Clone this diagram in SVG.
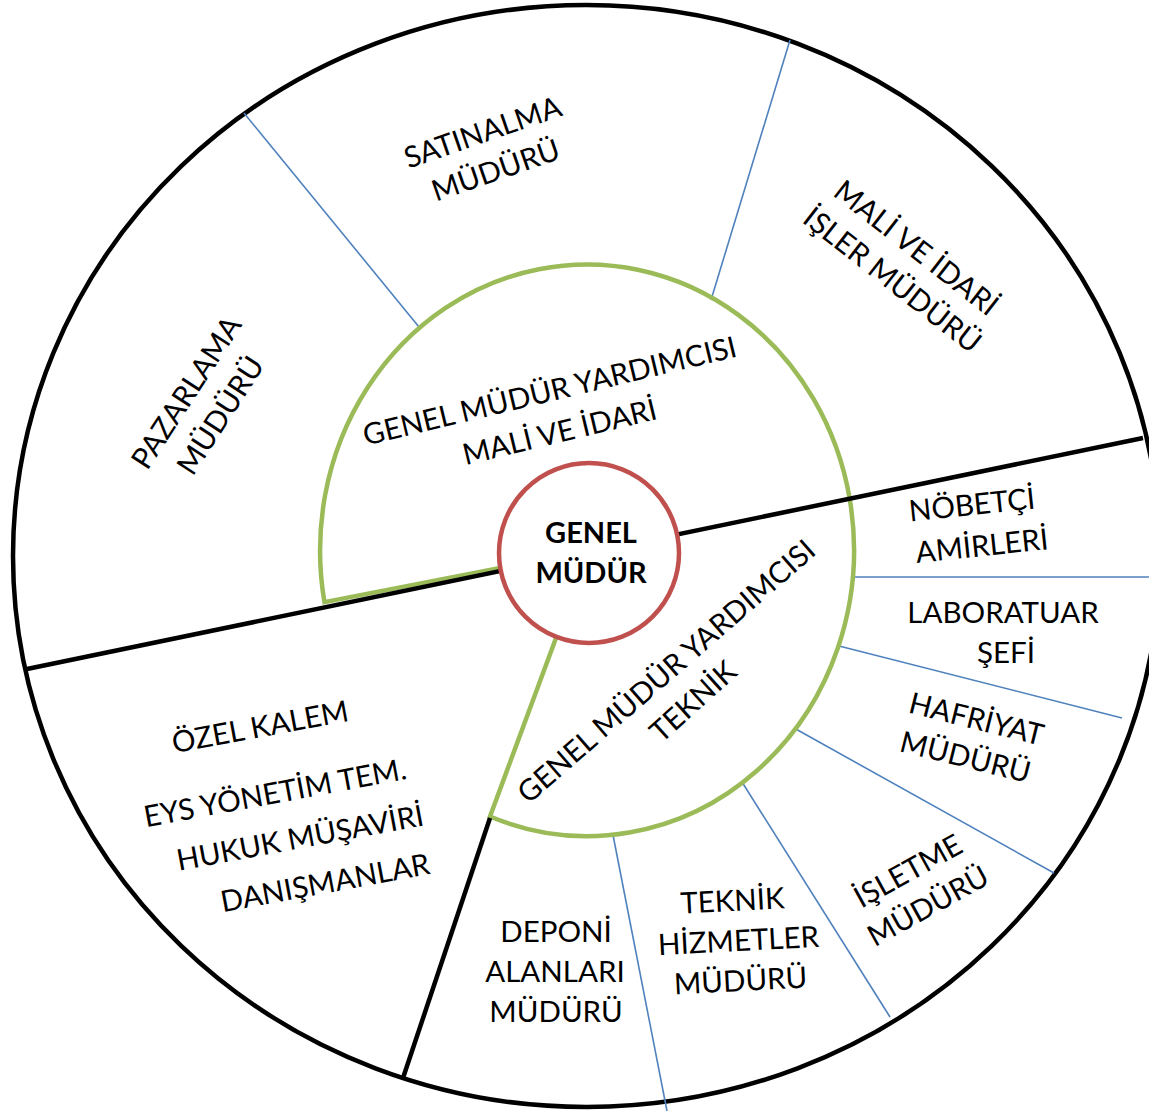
<svg xmlns="http://www.w3.org/2000/svg" width="1149" height="1111" viewBox="0 0 1149 1111">
  <style>
    .lbl { font-family: Lato, "Open Sans", "DejaVu Sans", sans-serif; font-size: 29.5px; fill: #000; text-anchor: middle; }
    .bold { font-weight: bold; font-size: 29px; }
    .outer { fill: #fff; stroke: #000; stroke-width: 4.5; }
    .div { fill: none; stroke: #000; stroke-width: 4.5; }
    .sub { fill: none; stroke: #4F81BD; stroke-width: 1.6; }
    .deputy { fill: none; stroke: #9BBB59; stroke-width: 4.5; stroke-linejoin: miter; }
    .chief { fill: #fff; stroke: #C0504D; stroke-width: 4.5; }
  </style>
  <rect width="1149" height="1111" fill="#fff"/>

  <!-- outer ring of departments -->
  <ellipse id="outer-ring" class="outer" cx="586.5" cy="556" rx="573.5" ry="551"/>

  <g id="connectors">
    <!-- blue separators between departments -->
    <line class="sub" x1="419" y1="327" x2="244" y2="113"/>
    <line class="sub" x1="711" y1="300" x2="790" y2="40"/>
    <line class="sub" x1="852" y1="577" x2="1149" y2="577"/>
    <line class="sub" x1="839" y1="646" x2="1122" y2="718"/>
    <line class="sub" x1="794" y1="728" x2="1054" y2="873"/>
    <line class="sub" x1="742" y1="782" x2="890" y2="1017"/>
    <line class="sub" x1="613" y1="835" x2="667" y2="1111"/>
  </g>

  <!-- deputy general manager sectors -->
  <g id="gmy-mali">
    <path class="deputy" d="M 587 551 L 324.47 602.12 A 267 286 0 1 1 849.7 498.86"/>
  </g>
  <g id="gmy-teknik">
    <path class="deputy" d="M 849.7 498.86 A 267 286 0 0 1 490 816.5 L 556 638"/>
  </g>

  <g id="dividers">
    <line class="div" x1="27" y1="669" x2="1143" y2="438"/>
    <line class="div" x1="490" y1="818" x2="403" y2="1078" stroke-width="5.5"/>
  </g>

  <!-- centre -->
  <g id="genel-mudur">
    <circle class="chief" cx="589" cy="553" r="90"/>
    <text class="lbl bold" x="591" y="543">GENEL</text>
    <text class="lbl bold" x="591" y="583">MÜDÜR</text>
  </g>

  <g id="gmy-mali-label">
    <text class="lbl" transform="translate(552,401) rotate(-13.5)">GENEL MÜDÜR YARDIMCISI</text>
    <text class="lbl" transform="translate(562,442) rotate(-13.5)">MALİ VE İDARİ</text>
  </g>
  <g id="gmy-teknik-label">
    <text class="lbl" transform="translate(673,679) rotate(-41)">GENEL MÜDÜR YARDIMCISI</text>
    <text class="lbl" transform="translate(700,709) rotate(-42)">TEKNİK</text>
  </g>

  <g id="pazarlama">
    <text class="lbl" transform="translate(195,398) rotate(-57)">PAZARLAMA</text>
    <text class="lbl" transform="translate(229,421) rotate(-57)">MÜDÜRÜ</text>
  </g>
  <g id="satinalma">
    <text class="lbl" transform="translate(486,142) rotate(-19)">SATINALMA</text>
    <text class="lbl" transform="translate(499,180) rotate(-19)">MÜDÜRÜ</text>
  </g>
  <g id="mali-idari">
    <text class="lbl" transform="translate(910,256) rotate(38)">MALİ VE İDARİ</text>
    <text class="lbl" transform="translate(886,288) rotate(38)">İŞLER MÜDÜRÜ</text>
  </g>
  <g id="nobetci">
    <text class="lbl" transform="translate(973,515) rotate(-6)">NÖBETÇİ</text>
    <text class="lbl" transform="translate(983,556) rotate(-6)">AMİRLERİ</text>
  </g>
  <g id="laboratuar">
    <text class="lbl" x="1003" y="623">LABORATUAR</text>
    <text class="lbl" x="1006" y="663">ŞEFİ</text>
  </g>
  <g id="hafriyat">
    <text class="lbl" transform="translate(974,729) rotate(14)">HAFRİYAT</text>
    <text class="lbl" transform="translate(963,767) rotate(14)">MÜDÜRÜ</text>
  </g>
  <g id="isletme">
    <text class="lbl" transform="translate(913,880) rotate(-29)">İŞLETME</text>
    <text class="lbl" transform="translate(933,915) rotate(-29)">MÜDÜRÜ</text>
  </g>
  <g id="teknik-hizmetler">
    <text class="lbl" transform="translate(733,911) rotate(-3)">TEKNİK</text>
    <text class="lbl" transform="translate(739,951) rotate(-3)">HİZMETLER</text>
    <text class="lbl" transform="translate(741,991) rotate(-3)">MÜDÜRÜ</text>
  </g>
  <g id="deponi">
    <text class="lbl" x="556" y="942">DEPONİ</text>
    <text class="lbl" x="555" y="982">ALANLARI</text>
    <text class="lbl" x="556" y="1022">MÜDÜRÜ</text>
  </g>
  <g id="ozel-kalem">
    <text class="lbl" transform="translate(262,737) rotate(-10.5)">ÖZEL KALEM</text>
    <text class="lbl" transform="translate(277,803) rotate(-10.5)">EYS YÖNETİM TEM.</text>
    <text class="lbl" transform="translate(302,848) rotate(-10.5)">HUKUK MÜŞAVİRİ</text>
    <text class="lbl" transform="translate(327,893) rotate(-10.5)">DANIŞMANLAR</text>
  </g>
</svg>
